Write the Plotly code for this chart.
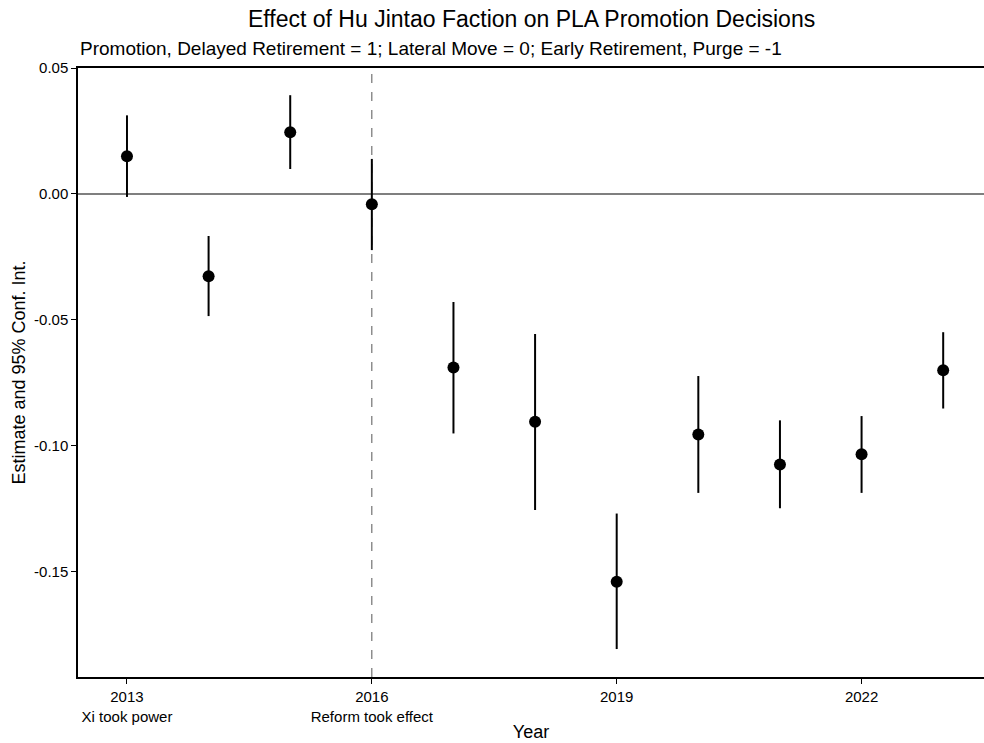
import plotly.graph_objects as go

years = [2013, 2014, 2015, 2016, 2017, 2018, 2019, 2020, 2021, 2022, 2023]
estimate = [0.0150, -0.0327, 0.0245, -0.0041, -0.0689, -0.0905, -0.1540, -0.0955, -0.1074, -0.1034, -0.0700]
ci_upper = [0.0312, -0.0167, 0.0392, 0.0139, -0.0429, -0.0556, -0.1269, -0.0723, -0.0899, -0.0882, -0.0549]
ci_lower = [-0.0012, -0.0485, 0.0099, -0.0223, -0.0951, -0.1255, -0.1807, -0.1187, -0.1248, -0.1187, -0.0852]

x_tickvals = [2013, 2016, 2019, 2022]
x_ticktext = ["2013<br>Xi took power", "2016<br>Reform took effect", "2019", "2022"]
y_tickvals = [0.05, 0.0, -0.05, -0.10, -0.15]
y_ticktext = ["0.05", "0.00", "-0.05", "-0.10", "-0.15"]

title = "Effect of Hu Jintao Faction on PLA Promotion Decisions"
subtitle = "Promotion, Delayed Retirement = 1; Lateral Move = 0; Early Retirement, Purge = -1"

FONT = "Liberation Sans, Arial, Helvetica, sans-serif"

err_plus = [u - e for u, e in zip(ci_upper, estimate)]
err_minus = [e - l for e, l in zip(estimate, ci_lower)]

fig = go.Figure()
fig.add_trace(go.Scatter(
    x=years, y=estimate, mode="markers",
    marker=dict(color="black", size=12),
    error_y=dict(type="data", symmetric=False, array=err_plus, arrayminus=err_minus,
                 color="black", thickness=2, width=0),
    showlegend=False, hoverinfo="x+y",
))

fig.add_shape(type="line", xref="x", yref="paper", x0=2016, x1=2016, y0=0, y1=1,
              line=dict(color="#555555", width=1, dash="dash"), layer="below")
fig.add_shape(type="line", xref="paper", yref="y", x0=0, x1=1, y0=0, y1=0,
              line=dict(color="#555555", width=1.5), layer="below")

fig.update_layout(
    width=984, height=743,
    margin=dict(l=78, r=0, t=68, b=66),
    paper_bgcolor="white", plot_bgcolor="white",
    font=dict(family=FONT, color="black", size=15),
    annotations=[
        dict(text=title, xref="paper", yref="paper", x=0.5, y=1, yshift=49,
             xanchor="center", yanchor="middle", showarrow=False,
             font=dict(size=23, family=FONT, color="black")),
        dict(text=subtitle, xref="paper", yref="paper", x=0, y=1, yshift=20,
             xanchor="left", yanchor="middle", showarrow=False,
             font=dict(size=19, family=FONT, color="black")),
    ],
)

fig.update_xaxes(
    range=[2012.4, 2023.5], tickvals=x_tickvals, ticktext=x_ticktext,
    showgrid=False, zeroline=False, showline=True, linecolor="black", linewidth=2,
    mirror=True, ticks="outside", ticklen=5, tickcolor="black",
    tickfont=dict(size=15), title=dict(text="Year", font=dict(size=18), standoff=2),
)
fig.update_yaxes(
    range=[-0.1918, 0.05], tickvals=y_tickvals, ticktext=y_ticktext,
    showgrid=False, zeroline=False, showline=True, linecolor="black", linewidth=1.5,
    mirror=False, ticks="outside", ticklen=5, tickcolor="black",
    tickfont=dict(size=15), title=dict(text="Estimate and 95% Conf. Int.", font=dict(size=18), standoff=4),
)

fig.write_html("out.html")
